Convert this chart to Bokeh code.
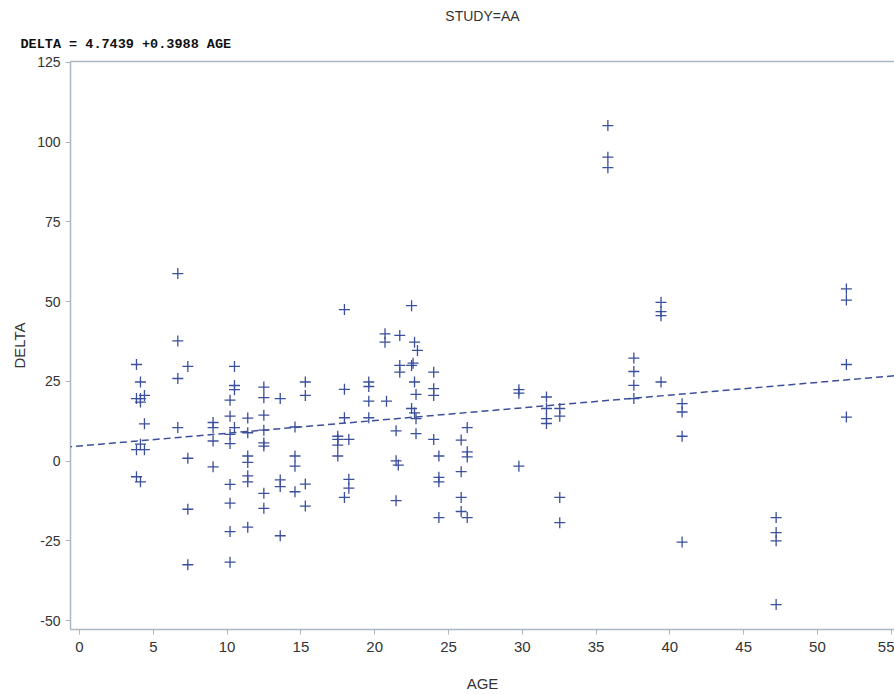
from bokeh.plotting import figure
from bokeh.models import Title, LinearAxis, FixedTicker, Slope, Range1d, PrintfTickFormatter
from bokeh.embed import file_html
from bokeh.resources import INLINE

# Data
age_groups = [3.86, 4.13, 4.4, 6.66, 7.34, 9.05, 10.2, 10.5, 11.4, 12.49, 13.6, 14.6, 15.3,
              17.5, 17.95, 18.25, 19.6, 20.7, 20.8, 21.45, 21.6, 21.7, 22.5, 22.6, 22.7,
              22.8, 22.9, 24.0, 24.35, 25.86, 26.27, 29.77, 31.64, 32.54, 35.8, 37.56,
              39.4, 40.83, 47.2, 51.96]
delta_groups = [
    [30.3, 19.6, 3.6, -4.9],
    [24.8, 19.6, 18.5, 5.3, -6.5],
    [20.6, 11.7, 3.6],
    [58.8, 37.7, 25.9, 10.5],
    [29.7, 0.9, -15.1, -32.5],
    [12.1, 10.5, 6.3, -1.8],
    [19.1, 14.1, 8.4, 5.5, -7.3, -13.2, -22.1, -31.7],
    [29.7, 23.7, 22.4, 10.5],
    [13.5, 8.9, 1.6, -0.4, -4.6, -6.5, -20.7],
    [23.2, 19.9, 14.4, 9.7, 5.7, 4.7, -10.1, -14.8],
    [19.6, -5.9, -8.0, -23.4],
    [10.7, 1.6, -1.6, -9.6],
    [24.8, 20.6, -7.2, -14.1],
    [7.8, 6.8, 5.0, 1.6],
    [47.5, 22.5, 13.6, -11.4],
    [6.8, -5.7, -8.5],
    [24.8, 23.4, 18.8, 13.6],
    [39.9, 37.3],
    [18.8],
    [9.5, 0.1, -12.4],
    [-1.25],
    [39.4, 30.0, 27.9],
    [48.75, 30.0, 16.5],
    [30.7],
    [37.3, 24.8, 15.1],
    [20.9, 13.3, 8.6],
    [34.7],
    [27.9, 22.7, 20.6, 6.8],
    [1.6, -5.1, -6.5, -17.7],
    [6.6, -3.3, -11.4, -15.8],
    [10.5, 2.9, 1.3, -17.7],
    [22.4, 21.3, -1.6],
    [20.1, 16.5, 13.3, 11.8],
    [16.5, 14.1, -11.4, -19.3],
    [105.2, 95.3, 92.0],
    [32.3, 28.1, 23.75, 19.6],
    [49.8, 46.9, 45.6, 24.8],
    [18.0, 15.4, 7.8, -25.4],
    [-17.7, -22.4, -25.0, -45.0],
    [54.0, 50.5, 30.3, 13.8],
]
AGE = [a for a, ds in zip(age_groups, delta_groups) for _ in ds]
DELTA = [d for ds in delta_groups for d in ds]

intercept = 4.7439
slope = 0.3988
x_ticks = [0, 5, 10, 15, 20, 25, 30, 35, 40, 45, 50, 55]
y_ticks = [-50, -25, 0, 25, 50, 75, 100, 125]

BLUE = "#3B4F9C"
AXIS = "#A9B6C4"
TXT = "#333333"

p = figure(width=894, height=694, output_backend="svg", toolbar_location=None,
           x_range=Range1d(-0.61, 55.22), y_range=Range1d(-52.8, 125.3),
           min_border_left=70, min_border_right=0, min_border_top=60, min_border_bottom=64,
           x_axis_label="AGE", y_axis_label="DELTA")
p.title.visible = False
p.outline_line_color = None
p.xgrid.visible = False
p.ygrid.visible = False
p.background_fill_color = "white"

for ax in (p.xaxis[0], p.yaxis[0]):
    ax.axis_line_color = AXIS
    ax.axis_line_width = 1.5
    ax.major_tick_line_color = AXIS
    ax.major_tick_out = 5
    ax.major_tick_in = 0
    ax.minor_tick_line_color = None
    ax.major_label_text_color = TXT
    ax.axis_label_text_color = TXT
    ax.axis_label_text_font = "Liberation Sans"
    ax.axis_label_text_font_style = "normal"
    ax.axis_label_text_font_size = "15px"
    ax.formatter = PrintfTickFormatter(format="%d")

p.xaxis.ticker = FixedTicker(ticks=x_ticks)
p.yaxis.ticker = FixedTicker(ticks=y_ticks)
p.xaxis.major_label_text_font = "'Liberation Sans Narrow', 'Liberation Sans'"
p.xaxis.major_label_text_font_size = "15px"
p.yaxis.major_label_text_font = "'Liberation Sans Narrow', 'Liberation Sans'"
p.yaxis.major_label_text_font_size = "14px"
p.xaxis.major_label_standoff = 7
p.xaxis.axis_label_standoff = 20
p.yaxis.axis_label_standoff = 6

top = LinearAxis(ticker=FixedTicker(ticks=[]), axis_line_color=AXIS, axis_line_width=1.5,
                 major_tick_line_color=None, minor_tick_line_color=None,
                 major_label_text_font_size="0px")
p.add_layout(top, "above")

p.add_layout(Title(text="DELTA = 4.7439 +0.3988 AGE", align="left", offset=-50,
                   text_font="Liberation Mono", text_font_style="bold",
                   text_font_size="13.5px", text_color="#111111", standoff=16,
                   vertical_align="top"), "above")
p.add_layout(Title(text="STUDY=AA", align="center", text_font="Liberation Sans",
                   text_font_style="normal", text_font_size="14px", text_color=TXT,
                   standoff=10), "above")

p.add_layout(Slope(gradient=slope, y_intercept=intercept, line_color=BLUE,
                   line_width=1.5, line_dash="7 4"))

p.scatter(AGE, DELTA, marker="cross", size=11, line_color=BLUE, line_width=1.3)

open("out.html", "w").write(file_html(p, INLINE))
